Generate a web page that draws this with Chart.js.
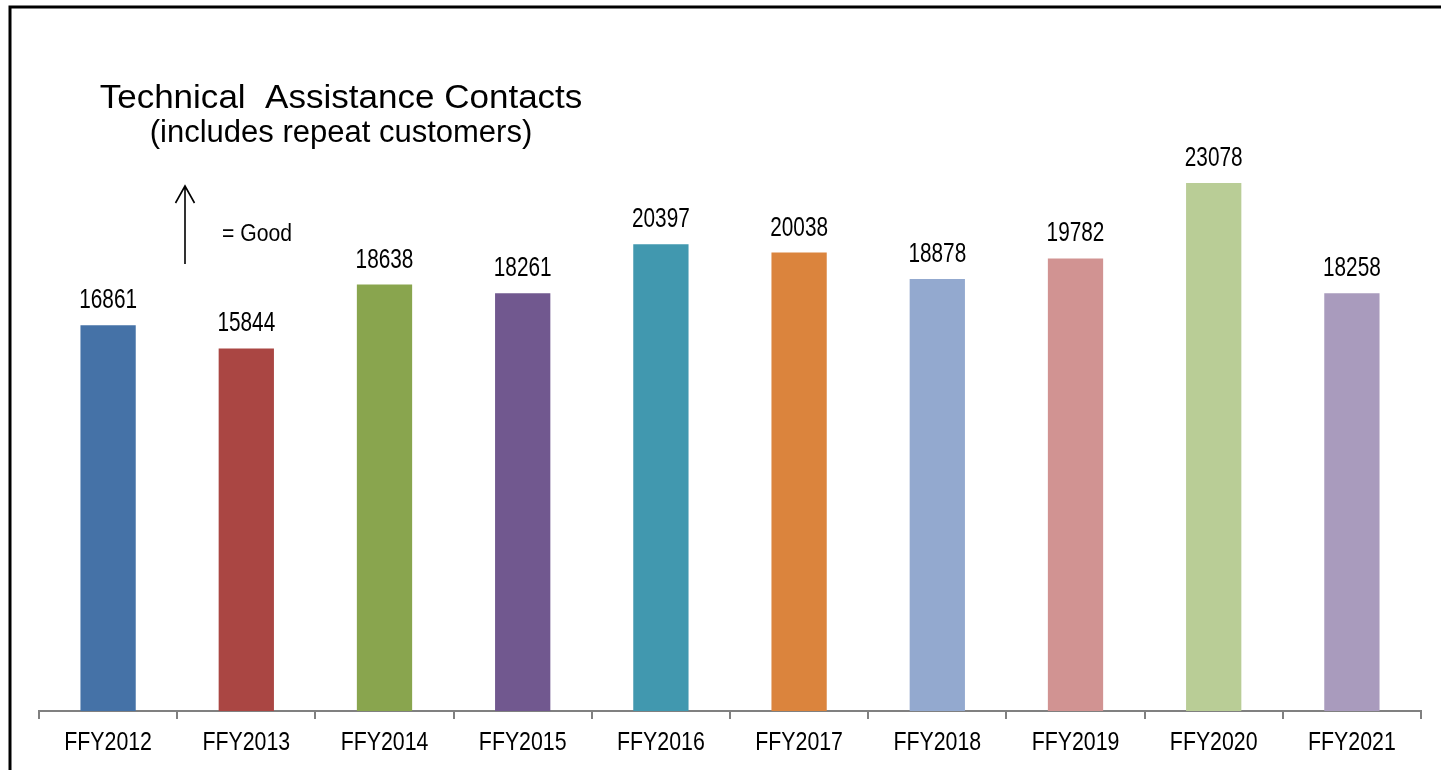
<!DOCTYPE html>
<html>
<head>
<meta charset="utf-8">
<script src="https://cdn.jsdelivr.net/npm/chart.js@4"></script>
<style>
  html, body { margin: 0; padding: 0; background: #fff; }
  #wrap { width: 1441px; height: 770px; }
</style>
</head>
<body>
<div id="wrap"><canvas id="barChart" width="1441" height="770"></canvas></div>
<script>
// data
const years = ['FFY2012', 'FFY2013', 'FFY2014', 'FFY2015', 'FFY2016',
               'FFY2017', 'FFY2018', 'FFY2019', 'FFY2020', 'FFY2021'];
const contacts = [16861, 15844, 18638, 18261, 20397, 20038, 18878, 19782, 23078, 18258];
const barColors = ['#4572A7', '#AA4643', '#89A54E', '#71588F', '#4198AF',
                   '#DB843D', '#93A9CF', '#D19392', '#B9CD96', '#A99BBD'];

const sans = '"Liberation Sans", Arial, sans-serif';

// text squeezed horizontally, the original uses a condensed face
function squeezedText(c, text, x, y, size, sx, align) {
  c.save();
  c.font = size + 'px ' + sans;
  c.textAlign = align || 'center';
  c.textBaseline = 'alphabetic';
  c.translate(x, y);
  c.scale(sx, 1);
  c.fillText(text, 0, 0);
  c.restore();
}

// frame, title, arrow, value labels and category labels
const decorations = {
  id: 'decorations',
  beforeDraw(chart) {
    const c = chart.ctx;
    c.save();
    c.fillStyle = '#fff';
    c.fillRect(0, 0, chart.width, chart.height);
    c.strokeStyle = '#000';
    c.lineWidth = 3;
    c.beginPath();
    c.moveTo(10, chart.height);
    c.lineTo(10, 7);
    c.lineTo(chart.width, 7);
    c.stroke();
    c.restore();
  },
  afterDraw(chart) {
    const c = chart.ctx;
    c.save();
    c.fillStyle = '#000';
    // value labels above bars
    chart.getDatasetMeta(0).data.forEach((bar, i) => {
      squeezedText(c, String(contacts[i]), bar.x, bar.y - 17, 27, 0.77);
    });
    // category labels under the axis
    const xs = chart.scales.x;
    years.forEach((y, i) => {
      squeezedText(c, y, xs.getPixelForValue(i), 750, 26, 0.82);
    });
    // title
    squeezedText(c, 'Technical  Assistance Contacts', 341, 108, 34, 1.03);
    squeezedText(c, '(includes repeat customers)', 341, 142, 31, 1.0);
    // arrow = good
    c.strokeStyle = '#000';
    c.lineWidth = 1.6;
    c.beginPath();
    c.moveTo(185, 264);
    c.lineTo(185, 186);
    c.moveTo(175.5, 203);
    c.lineTo(185, 186);
    c.lineTo(194.5, 203);
    c.stroke();
    squeezedText(c, '= Good', 222, 241, 23, 0.92, 'left');
    c.restore();
  }
};

const ctx = document.getElementById('barChart').getContext('2d');
new Chart(ctx, {
  type: 'bar',
  data: {
    labels: years,
    datasets: [{
      data: contacts,
      backgroundColor: barColors,
      borderWidth: 0,
      categoryPercentage: 0.4,
      barPercentage: 1.0
    }]
  },
  options: {
    responsive: false,
    animation: false,
    layout: { padding: { left: 39, right: 20, top: 139, bottom: 0 } },
    plugins: {
      legend: { display: false },
      tooltip: { enabled: false },
      title: { display: false }
    },
    scales: {
      x: {
        offset: true,
        afterFit(scale) { scale.height = 59; },
        border: { display: true, color: '#808080', width: 2 },
        grid: {
          offset: true,
          drawOnChartArea: false,
          drawTicks: true,
          tickLength: 8,
          color: '#808080',
          lineWidth: 2
        },
        ticks: { display: false }
      },
      y: {
        display: false,
        min: 0,
        max: 25000
      }
    }
  },
  plugins: [decorations]
});
</script>
</body>
</html>
